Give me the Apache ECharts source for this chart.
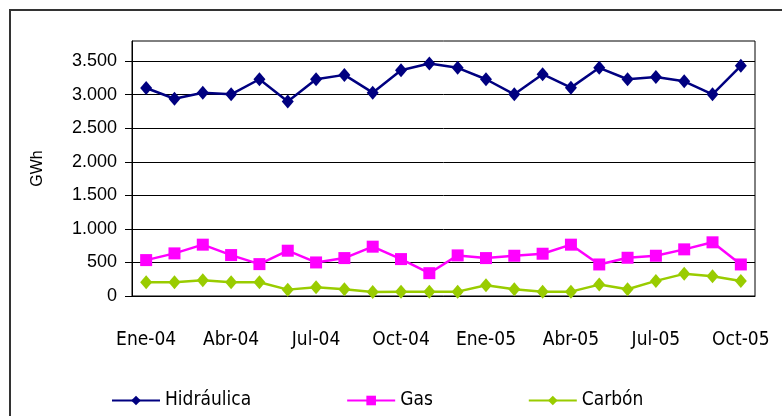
<!DOCTYPE html>
<html>
<head>
<meta charset="utf-8">
<script src="https://cdn.jsdelivr.net/npm/echarts@6/dist/echarts.min.js"></script>
<style>
  html, body { margin: 0; padding: 0; background: #fff; }
  #chart { width: 782px; height: 416px; }
</style>
</head>
<body>
<div id="chart"></div>
<script>
const meses = [
  'Ene-04', 'Feb-04', 'Mar-04', 'Abr-04', 'May-04', 'Jun-04', 'Jul-04', 'Ago-04', 'Sep-04', 'Oct-04', 'Nov-04', 'Dic-04',
  'Ene-05', 'Feb-05', 'Mar-05', 'Abr-05', 'May-05', 'Jun-05', 'Jul-05', 'Ago-05', 'Sep-05', 'Oct-05'
]
const hidraulica = [3100, 2940, 3030, 3005, 3230, 2900, 3230, 3295, 3030, 3365, 3465,
  3400, 3230, 3005, 3305, 3105, 3400, 3230, 3265, 3200, 3005, 3430]
const gas = [535, 635, 765, 610, 475, 675, 500, 565, 735, 550, 340,
  605, 565, 600, 630, 765, 470, 570, 600, 695, 800, 470]
const carbon = [205, 205, 235, 205, 205, 95, 130, 100, 60, 65, 65,
  65, 160, 100, 65, 65, 170, 100, 225, 330, 295, 225]
const yTicks = [0, 500, 1000, 1500, 2000, 2500, 3000, 3500]

const narrow = '"DejaVu Sans Condensed", "Liberation Sans", sans-serif'
const normal = '"Liberation Sans", Arial, sans-serif'

// 3500 -> "3.500"
const fmtMiles = (v) => String(v).replace(/\B(?=(\d{3})+(?!\d))/g, '.')

const chart = echarts.init(document.getElementById('chart'))
chart.setOption({
  backgroundColor: '#fff',
  animation: false,
  graphic: [{
    type: 'rect',
    shape: { x: 10, y: 10, width: 800, height: 420 },
    style: { fill: null, stroke: '#333', lineWidth: 2 }
  }],
  grid: {
    left: 132, right: 27, top: 41, bottom: 120,
    show: true, borderColor: '#000', borderWidth: 1
  },
  legend: {
    left: 106, top: 386,
    itemWidth: 48, itemHeight: 12, itemGap: 95,
    textStyle: { fontFamily: narrow, fontSize: 19, color: '#000' },
    data: ['Hidráulica', 'Gas', 'Carbón']
  },
  xAxis: {
    type: 'category',
    data: meses,
    boundaryGap: true,
    axisLine: { lineStyle: { color: '#000', width: 1 } },
    axisTick: { interval: 2, length: 8, lineStyle: { color: '#000' } },
    axisLabel: { interval: 2, margin: 35, fontFamily: narrow, fontSize: 19, color: '#000' },
    splitLine: { show: false }
  },
  yAxis: {
    type: 'value',
    min: 0, max: 3800, interval: 500,
    name: 'GWh',
    nameLocation: 'middle',
    nameRotate: 90,
    nameGap: 86,
    nameTextStyle: { fontFamily: normal, fontSize: 16, color: '#000' },
    axisLine: { show: true, lineStyle: { color: '#000', width: 1 } },
    axisTick: { show: true, length: 7, customValues: yTicks, lineStyle: { color: '#000' } },
    axisLabel: {
      margin: 15, fontFamily: normal, fontSize: 18, color: '#000',
      customValues: yTicks,
      formatter: fmtMiles
    },
    splitLine: { show: true, lineStyle: { color: '#000', width: 1 } }
  },
  series: [
    {
      name: 'Hidráulica', type: 'line', data: hidraulica,
      symbol: 'diamond', symbolSize: [12, 14],
      lineStyle: { color: '#000080', width: 2.5 },
      itemStyle: { color: '#000080' }
    },
    {
      name: 'Gas', type: 'line', data: gas,
      symbol: 'rect', symbolSize: 12,
      lineStyle: { color: '#ff00ff', width: 2.5 },
      itemStyle: { color: '#ff00ff' }
    },
    {
      name: 'Carbón', type: 'line', data: carbon,
      symbol: 'diamond', symbolSize: [12, 14],
      lineStyle: { color: '#99cc00', width: 2.5 },
      itemStyle: { color: '#99cc00' }
    }
  ]
})
</script>
</body>
</html>
